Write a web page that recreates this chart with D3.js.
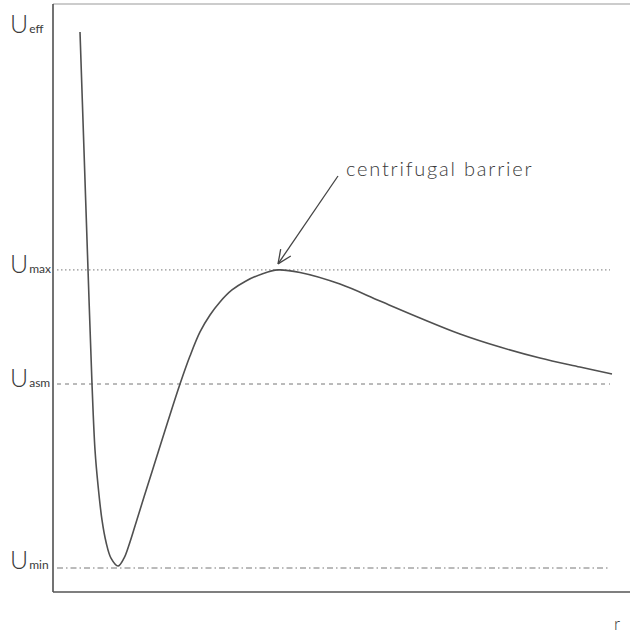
<!DOCTYPE html>
<html>
<head>
<meta charset="utf-8">
<script src="https://cdn.jsdelivr.net/npm/d3@7"></script>
<style>
  html, body { margin: 0; padding: 0; background: #fff; }
  svg { display: block; }
  text { font-family: Lato, "Open Sans", sans-serif; fill: #3a3a3a; }
</style>
</head>
<body>
<script>
// Effective potential U_eff(r): sampled points along the curve
const rValues = [0.468, 0.537, 0.607, 0.676, 0.728, 0.780, 0.849, 0.919, 1.005, 1.127, 1.231, 1.317, 1.421, 1.577, 1.785, 1.993, 2.201, 2.374, 2.548, 2.721, 2.894, 3.102, 3.345, 3.622, 3.899, 4.281, 4.974, 5.667, 6.360, 7.054, 7.747, 8.440, 9.133, 9.688];
const uValues = [1.913, 1.272, 0.620, 0.000, -0.359, -0.549, -0.739, -0.859, -0.946, -0.989, -0.946, -0.875, -0.772, -0.614, -0.408, -0.201, 0.000, 0.152, 0.283, 0.375, 0.446, 0.511, 0.560, 0.598, 0.620, 0.606, 0.543, 0.451, 0.359, 0.272, 0.201, 0.141, 0.092, 0.054];

// Reference levels
const levelNames = ["max", "asm", "min"];
const levelValues = [0.62, 0.0, -1.0];
const levelDash = ["1.5,2.5", "4,4", "6,3,1.5,3"];

// Barrier annotation
const barrierLabel = "centrifugal barrier";
const barrierPoint = [3.9, 0.62];

const W = 630, H = 634;
const box = { left: 53, right: 630, top: 4, bottom: 592 };

const x = d3.scaleLinear().domain([0, 10]).range([box.left, box.right]);
const y = d3.scaleLinear().domain([0, 1]).range([384, 200]);

const svg = d3.select("body").append("svg").attr("width", W).attr("height", H);

// Frame
svg.append("line").attr("x1", box.left).attr("x2", box.right).attr("y1", box.top).attr("y2", box.top)
  .attr("stroke", "#9a9a9a").attr("stroke-width", 1.2);
svg.append("line").attr("x1", box.left).attr("x2", box.left).attr("y1", box.top).attr("y2", box.bottom)
  .attr("stroke", "#444").attr("stroke-width", 1.5);
svg.append("line").attr("x1", box.left).attr("x2", box.right).attr("y1", box.bottom).attr("y2", box.bottom)
  .attr("stroke", "#555").attr("stroke-width", 1.5);

// Horizontal reference levels
svg.selectAll("line.level").data(levelValues).join("line")
  .attr("class", "level")
  .attr("x1", 57).attr("x2", 610)
  .attr("y1", d => y(d)).attr("y2", d => y(d))
  .attr("stroke", "#777").attr("stroke-width", 1)
  .attr("stroke-dasharray", (d, i) => levelDash[i]);

// Curve
const pts = rValues.map((r, i) => [r, uValues[i]]);
svg.append("path")
  .attr("d", d3.line().x(d => x(d[0])).y(d => y(d[1])).curve(d3.curveCatmullRom.alpha(0.5))(pts))
  .attr("fill", "none").attr("stroke", "#505050").attr("stroke-width", 1.6);

// Y labels
function uLabel(sub, yy) {
  const t = svg.append("text").attr("x", 10).attr("y", yy).attr("font-size", 25).attr("font-weight", 300);
  t.append("tspan").text("U");
  t.append("tspan").attr("font-size", 12).attr("font-weight", 400).attr("dx", 1).text(sub);
}
uLabel("eff", 33);
levelValues.forEach((v, i) => uLabel(levelNames[i], y(v) + (i === 2 ? 1 : 3)));

// x label
svg.append("text").attr("x", 614).attr("y", 630).attr("font-size", 17).attr("font-weight", 300).text("r");

// Annotation with open arrow
const tip = [x(barrierPoint[0]), y(barrierPoint[1]) - 6];
const tail = [338, 176];
svg.append("line").attr("x1", tail[0]).attr("y1", tail[1]).attr("x2", tip[0]).attr("y2", tip[1])
  .attr("stroke", "#444").attr("stroke-width", 1.3);
const ang = Math.atan2(tip[1] - tail[1], tip[0] - tail[0]);
const headLen = 15, spread = 0.42;
[ang + Math.PI - spread, ang + Math.PI + spread].forEach(a => {
  svg.append("line").attr("x1", tip[0]).attr("y1", tip[1])
    .attr("x2", tip[0] + headLen * Math.cos(a)).attr("y2", tip[1] + headLen * Math.sin(a))
    .attr("stroke", "#444").attr("stroke-width", 1.3);
});
svg.append("text").attr("x", 346).attr("y", 176).attr("font-size", 20).attr("font-weight", 300)
  .attr("letter-spacing", 1.8).text(barrierLabel);
</script>
</body>
</html>
